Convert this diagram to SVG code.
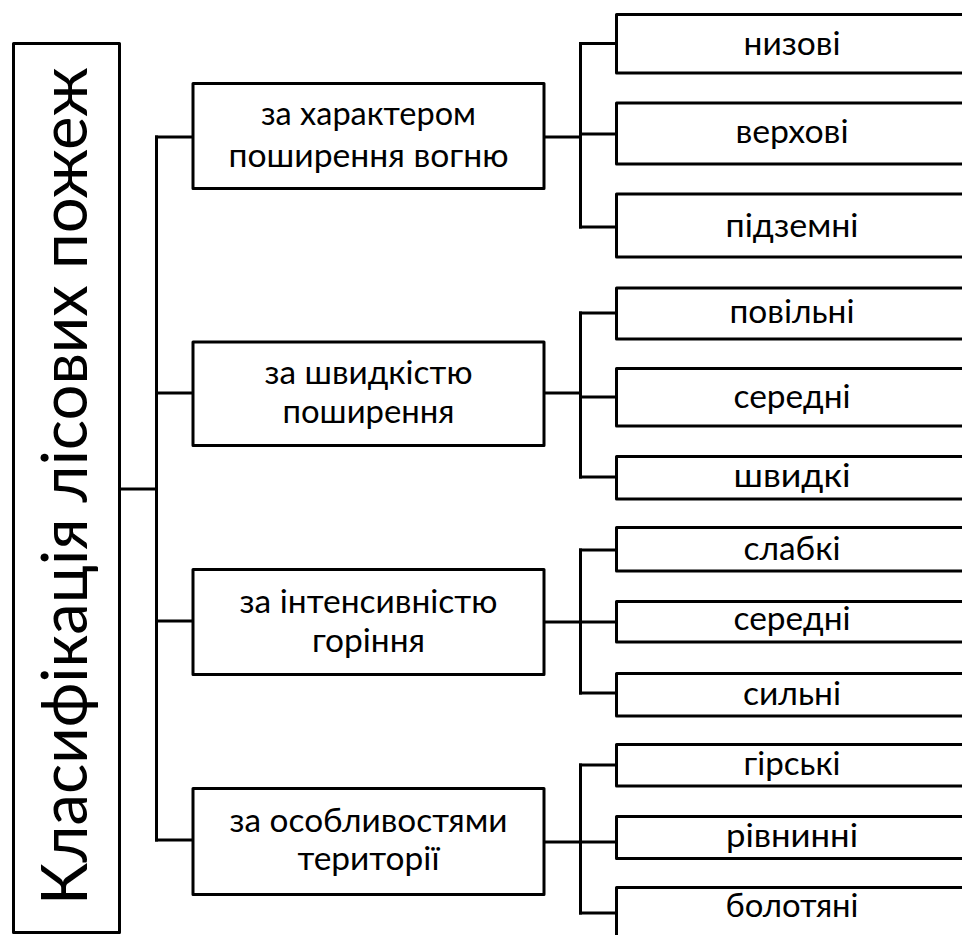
<svg xmlns="http://www.w3.org/2000/svg" width="962" height="935" viewBox="0 0 962 935">
  <style>
    .box { fill: #ffffff; stroke: #000000; stroke-width: 3; stroke-linejoin: round; }
    .wire { fill: none; stroke: #000000; stroke-width: 3; stroke-linejoin: round; stroke-linecap: square; }
    text { font-family: "Lato", "Open Sans", "Noto Sans", sans-serif; fill: #000000; text-anchor: middle; }
    .cat { font-size: 33px; }
    .leaf { font-size: 33px; }
    .title { font-size: 64px; }
  </style>
  <rect width="962" height="935" fill="#ffffff"/>

  <!-- connectors -->
  <g id="connectors">
    <!-- root to trunk -->
    <path class="wire" d="M121 489 H156.5"/>
    <path class="wire" d="M156.5 137 V840"/>
    <path class="wire" d="M156.5 137 H192 M156.5 393 H192 M156.5 621 H192 M156.5 840 H192"/>
    <!-- category to sub-trunks -->
    <path class="wire" d="M545 137 H580.5 M545 393 H580.5 M545 622 H580.5 M545 842 H580.5"/>
    <path class="wire" d="M580.5 43.5 V227 M580.5 313 V477 M580.5 550 V693 M580.5 765 V913"/>
    <!-- sub-trunks to leaves -->
    <path class="wire" d="M580.5 43.5 H616 M580.5 134 H616 M580.5 227 H616"/>
    <path class="wire" d="M580.5 313 H616 M580.5 397 H616 M580.5 477 H616"/>
    <path class="wire" d="M580.5 550 H616 M580.5 622 H616 M580.5 693 H616"/>
    <path class="wire" d="M580.5 765 H616 M580.5 842 H616 M580.5 913 H616"/>
  </g>

  <!-- root -->
  <g id="root">
    <rect class="box" x="13.5" y="43.5" width="106" height="889"/>
    <text class="title" transform="translate(87,486) rotate(-90)" textLength="838" lengthAdjust="spacingAndGlyphs">Класифікація лісових пожеж</text>
  </g>

  <!-- categories -->
  <g id="cat-fire">
    <rect class="box" x="193" y="83.5" width="351" height="105"/>
    <text class="cat" x="368.5" y="125" textLength="215" lengthAdjust="spacingAndGlyphs">за характером</text>
    <text class="cat" x="368.5" y="166.5" textLength="280" lengthAdjust="spacingAndGlyphs">поширення вогню</text>
  </g>
  <g id="cat-speed">
    <rect class="box" x="193" y="342" width="351" height="103.5"/>
    <text class="cat" x="368.5" y="384" textLength="208" lengthAdjust="spacingAndGlyphs">за швидкістю</text>
    <text class="cat" x="368.5" y="423" textLength="172" lengthAdjust="spacingAndGlyphs">поширення</text>
  </g>
  <g id="cat-intensity">
    <rect class="box" x="193" y="569.5" width="351" height="105"/>
    <text class="cat" x="368.5" y="613" textLength="258" lengthAdjust="spacingAndGlyphs">за інтенсивністю</text>
    <text class="cat" x="368.5" y="652" textLength="113" lengthAdjust="spacingAndGlyphs">горіння</text>
  </g>
  <g id="cat-terrain">
    <rect class="box" x="193" y="788.5" width="351" height="106"/>
    <text class="cat" x="368.5" y="832" textLength="278" lengthAdjust="spacingAndGlyphs">за особливостями</text>
    <text class="cat" x="368.5" y="870" textLength="142" lengthAdjust="spacingAndGlyphs">території</text>
  </g>

  <!-- leaves -->
  <g id="leaf-surface">
    <rect class="box" x="616.5" y="14.5" width="360" height="58.5"/>
    <text class="leaf" x="792" y="55" textLength="97" lengthAdjust="spacingAndGlyphs">низові</text>
  </g>
  <g id="leaf-crown">
    <rect class="box" x="616.5" y="103" width="360" height="61"/>
    <text class="leaf" x="792" y="143" textLength="113" lengthAdjust="spacingAndGlyphs">верхові</text>
  </g>
  <g id="leaf-ground">
    <rect class="box" x="616.5" y="194" width="360" height="63"/>
    <text class="leaf" x="792" y="237" textLength="133" lengthAdjust="spacingAndGlyphs">підземні</text>
  </g>
  <g id="leaf-slow">
    <rect class="box" x="616.5" y="288" width="360" height="51"/>
    <text class="leaf" x="792" y="323" textLength="125" lengthAdjust="spacingAndGlyphs">повільні</text>
  </g>
  <g id="leaf-medium-speed">
    <rect class="box" x="616.5" y="368.5" width="360" height="57.5"/>
    <text class="leaf" x="792" y="408" textLength="117" lengthAdjust="spacingAndGlyphs">середні</text>
  </g>
  <g id="leaf-fast">
    <rect class="box" x="616.5" y="456.5" width="360" height="42.5"/>
    <text class="leaf" x="792" y="487" textLength="117" lengthAdjust="spacingAndGlyphs">швидкі</text>
  </g>
  <g id="leaf-weak">
    <rect class="box" x="616.5" y="527.5" width="360" height="43.5"/>
    <text class="leaf" x="792" y="560" textLength="97" lengthAdjust="spacingAndGlyphs">слабкі</text>
  </g>
  <g id="leaf-medium-intensity">
    <rect class="box" x="616.5" y="601.5" width="360" height="40.5"/>
    <text class="leaf" x="792" y="630" textLength="117" lengthAdjust="spacingAndGlyphs">середні</text>
  </g>
  <g id="leaf-strong">
    <rect class="box" x="616.5" y="673.5" width="360" height="42.5"/>
    <text class="leaf" x="792" y="705" textLength="98" lengthAdjust="spacingAndGlyphs">сильні</text>
  </g>
  <g id="leaf-mountain">
    <rect class="box" x="616.5" y="744.5" width="360" height="41.5"/>
    <text class="leaf" x="792" y="775" textLength="97" lengthAdjust="spacingAndGlyphs">гірські</text>
  </g>
  <g id="leaf-plain">
    <rect class="box" x="616.5" y="816.5" width="360" height="42"/>
    <text class="leaf" x="792" y="847" textLength="132" lengthAdjust="spacingAndGlyphs">рівнинні</text>
  </g>
  <g id="leaf-swamp">
    <rect class="box" x="616.5" y="887.5" width="360" height="80"/>
    <text class="leaf" x="792" y="917" textLength="133" lengthAdjust="spacingAndGlyphs">болотяні</text>
  </g>
</svg>
